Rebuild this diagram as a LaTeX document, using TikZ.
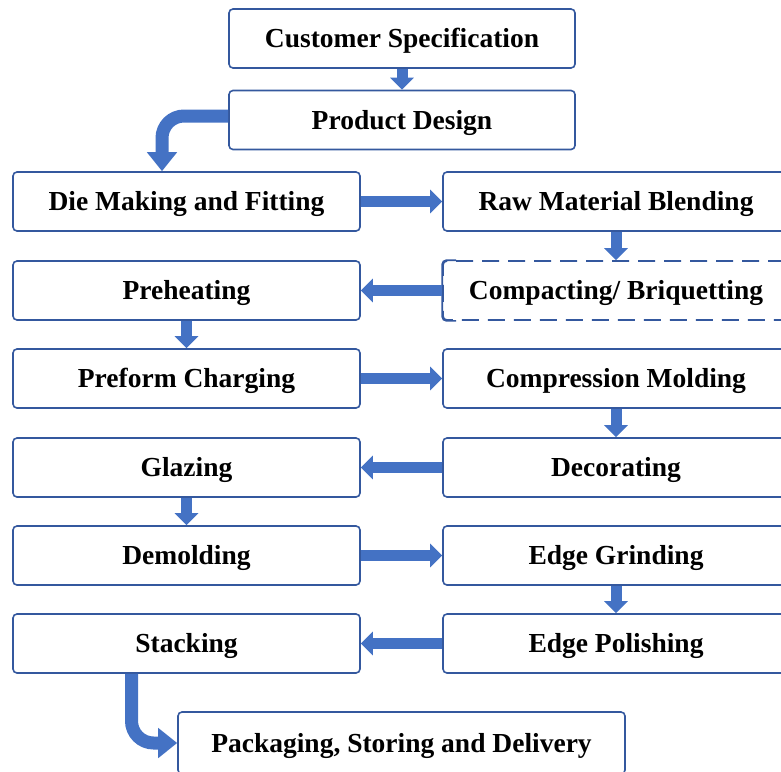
\documentclass[tikz,border=0pt]{standalone}
\usepackage{fontspec}
\setmainfont{Liberation Serif}
\usetikzlibrary{arrows.meta}
\definecolor{boxblue}{RGB}{52,88,158}
\definecolor{arrowblue}{RGB}{68,114,196}
\tikzset{
    box/.style={draw=boxblue, line width=1.6pt, rounded corners=4pt, fill=white,
        minimum height=59pt, inner sep=0pt, text height=22pt, text depth=4pt,
        font=\fontsize{27.5}{31}\selectfont\bfseries},
    leftbox/.style={box, minimum width=347pt},
    rightbox/.style={box, minimum width=346pt},
    dashbox/.style={rightbox, dash pattern=on 17pt off 9pt},
    flowarrow/.style={arrowblue, line width=11pt, -{Triangle[width=23pt,length=12pt]}},
    bendarrow/.style={arrowblue, line width=13pt, rounded corners=22pt, -{Triangle[width=29pt,length=19pt]}}
}

\begin{document}
\begin{tikzpicture}[x=1pt, y=-1pt]

\useasboundingbox (0,0) rectangle (781,771);
\clip (0,0) rectangle (781,771);

% Kopf
\node[box, minimum width=346pt] (spec) at (402,38.5) {Customer Specification};
\node[box, minimum width=346pt] (design) at (402,120) {Product Design};

% linke Spalte
\node[leftbox] (die)     at (186.5,201.5) {Die Making and Fitting};
\node[leftbox] (preheat) at (186.5,290.5) {Preheating};
\node[leftbox] (charge)  at (186.5,378.5) {Preform Charging};
\node[leftbox] (glaze)   at (186.5,467.5) {Glazing};
\node[leftbox] (demold)  at (186.5,555.5) {Demolding};
\node[leftbox] (stack)   at (186.5,643.5) {Stacking};

% rechte Spalte
\node[rightbox] (blend)    at (616,201.5) {Raw Material Blending};
\node[dashbox]  (compact)  at (616,290.5) {Compacting/ Briquetting};
\node[rightbox] (mold)     at (616,378.5) {Compression Molding};
\node[rightbox] (decor)    at (616,467.5) {Decorating};
\node[rightbox] (grind)    at (616,555.5) {Edge Grinding};
\node[rightbox] (polish)   at (616,643.5) {Edge Polishing};

% linke Kante des gestrichelten Kastens durchgezogen
\draw[boxblue, line width=1.6pt, rounded corners=4pt]
    ([xshift=14pt]compact.north west) -- (compact.north west) -- (compact.south west) -- ([xshift=14pt]compact.south west);

% Fuss
\node[box, minimum width=447pt, minimum height=62pt] (pack) at (401.5,743) {Packaging, Storing and Delivery};

% Pfeile
\draw[flowarrow] (spec) -- (design);
\draw[bendarrow] ([yshift=4pt]design.west) -| ([xshift=-24.5pt]die.north);
\draw[flowarrow] (die) -- (blend);
\draw[flowarrow] (blend) -- (compact);
\draw[flowarrow] (compact) -- (preheat);
\draw[flowarrow] (preheat) -- (charge);
\draw[flowarrow] (charge) -- (mold);
\draw[flowarrow] (mold) -- (decor);
\draw[flowarrow] (decor) -- (glaze);
\draw[flowarrow] (glaze) -- (demold);
\draw[flowarrow] (demold) -- (grind);
\draw[flowarrow] (grind) -- (polish);
\draw[flowarrow] (polish) -- (stack);
\draw[bendarrow] ([xshift=-55pt]stack.south) |- (pack.west);

\end{tikzpicture}
\end{document}
